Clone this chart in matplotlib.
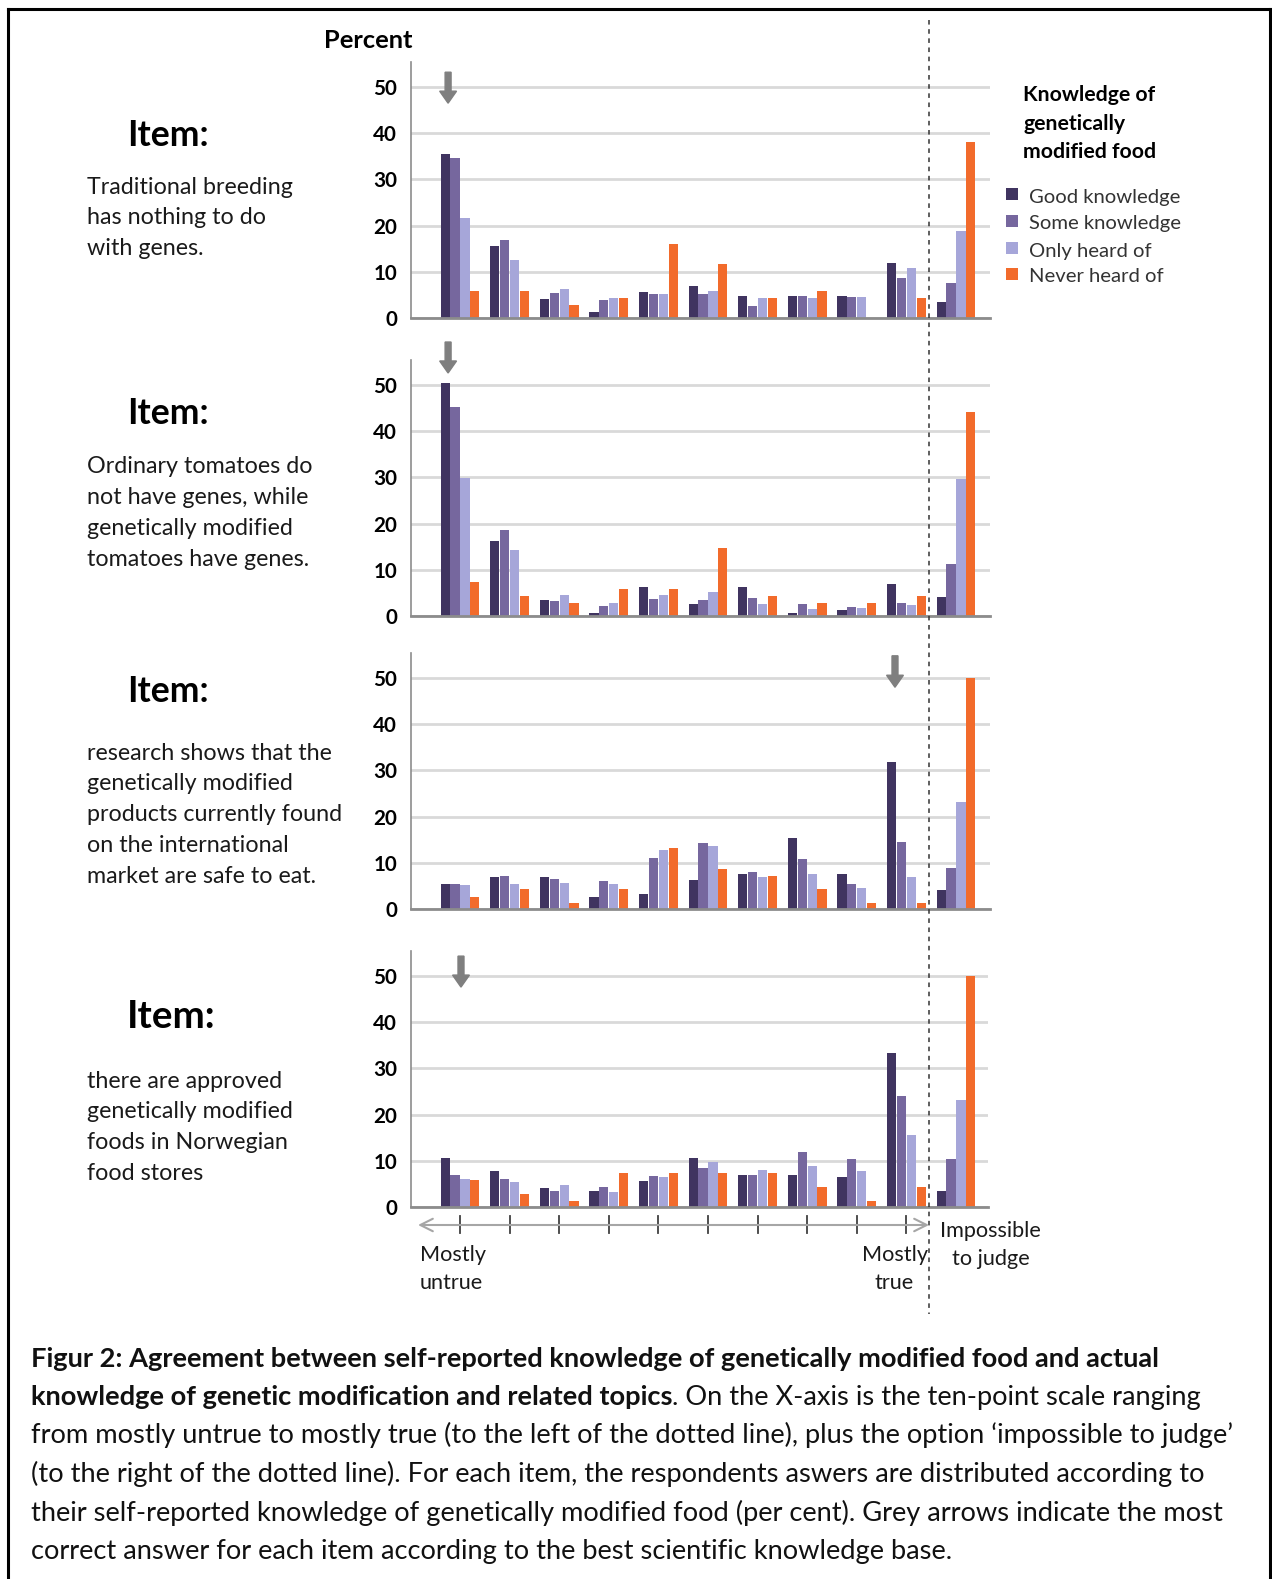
import matplotlib
matplotlib.use("Agg")
import matplotlib.pyplot as plt
from matplotlib.patches import Rectangle
from matplotlib.lines import Line2D
from matplotlib import transforms
import numpy as np

# ---------------- data ----------------
categories = ['1', '2', '3', '4', '5', '6', '7', '8', '9', '10', 'Impossible to judge']
series = ['Good knowledge', 'Some knowledge', 'Only heard of', 'Never heard of']

item1_good  = [35.4, 15.6, 4.2, 1.3, 5.6, 7.0, 4.8, 4.8, 4.8, 12.0, 3.4]
item1_some  = [34.6, 16.9, 5.4, 3.9, 5.1, 5.2, 2.6, 4.8, 4.6, 8.7, 7.5]
item1_only  = [21.7, 12.6, 6.3, 4.3, 5.3, 5.9, 4.3, 4.3, 4.6, 10.8, 18.9]
item1_never = [5.8, 5.8, 2.8, 4.3, 16.1, 11.7, 4.3, 5.8, 0.0, 4.3, 38.2]

item2_good  = [50.5, 16.3, 3.5, 0.6, 6.3, 2.7, 6.3, 0.6, 1.3, 7.0, 4.2]
item2_some  = [45.3, 18.7, 3.3, 2.2, 3.7, 3.5, 3.8, 2.7, 2.0, 2.9, 11.3]
item2_only  = [29.9, 14.3, 4.6, 2.9, 4.6, 5.2, 2.7, 1.5, 1.8, 2.4, 29.6]
item2_never = [7.4, 4.4, 2.9, 5.9, 5.9, 14.7, 4.4, 2.9, 2.9, 4.4, 44.1]

item3_good  = [5.4, 6.9, 6.9, 2.7, 3.3, 6.2, 7.6, 15.4, 7.6, 31.9, 4.1]
item3_some  = [5.4, 7.2, 6.6, 6.1, 11.1, 14.3, 8.0, 10.9, 5.4, 14.4, 8.9]
item3_only  = [5.3, 5.5, 5.6, 5.5, 12.8, 13.7, 7.0, 7.6, 4.6, 7.0, 23.2]
item3_never = [2.7, 4.3, 1.3, 4.3, 13.1, 8.7, 7.2, 4.3, 1.3, 1.3, 50.0]

item4_good  = [10.6, 7.7, 4.2, 3.5, 5.6, 10.6, 7.0, 7.0, 6.4, 33.3, 3.5]
item4_some  = [7.0, 6.1, 3.5, 4.3, 6.8, 8.4, 6.9, 11.8, 10.3, 24.1, 10.3]
item4_only  = [6.1, 5.4, 4.8, 3.3, 6.4, 9.7, 8.1, 8.9, 7.9, 15.5, 23.2]
item4_never = [5.8, 2.8, 1.4, 7.3, 7.3, 7.3, 7.3, 4.4, 1.4, 4.4, 50.0]

correct_answer = [0, 0, 9, 0]   # index of category marked by grey arrow

item_texts = [
    ["Traditional breeding", "has nothing to do", "with genes."],
    ["Ordinary tomatoes do", "not have genes, while", "genetically modified", "tomatoes have genes."],
    ["research shows that the", "genetically modified", "products currently found",
     "on the international", "market are safe to eat."],
    ["there are approved", "genetically modified", "foods in Norwegian", "food stores"],
]
yticks = [0, 10, 20, 30, 40, 50]

caption_lines = [
    [("Figur 2: Agreement between self-reported knowledge of genetically modified food and actual", 'bold')],
    [("knowledge of genetic modification and related topics", 'bold'),
     (". On the X-axis is the ten-point scale ranging", 'normal')],
    [("from mostly untrue to mostly true (to the left of the dotted line), plus the option \u2018impossible to judge\u2019", 'normal')],
    [("(to the right of the dotted line). For each item, the respondents aswers are distributed according to", 'normal')],
    [("their self-reported knowledge of genetically modified food (per cent). Grey arrows indicate the most", 'normal')],
    [("correct answer for each item according to the best scientific knowledge base.", 'normal')],
]

# ---------------- style ----------------
FONT = ['Lato', 'DejaVu Sans']
plt.rcParams['font.family'] = FONT
colors = ['#403460', '#76679e', '#a6a6d9', '#f26b2b']
W, H = 1272, 1579
fig = plt.figure(figsize=(W / 100, H / 100), dpi=100)
renderer = fig.canvas.get_renderer()


def fx(px):
    return px / W


def fy(py):
    return 1 - py / H


def text_w(s, size, weight):
    t = fig.text(0, 0, s, fontsize=size, fontweight=weight)
    w = t.get_window_extent(renderer).width
    t.remove()
    return w


def fit(s, weight, target):
    return 10 * target / text_w(s, 10, weight)


cap_size = fit(caption_lines[0][0][0], 'bold', 1137)
desc_size = fit("Traditional breeding", 'normal', 206)
item_size = fit("Item:", 'bold', 82)
item4_size = fit("Item:", 'bold', 89)
percent_size = fit("Percent", 'bold', 89)
leg_title_size = fit("Knowledge of", 'bold', 133)
leg_size = fit("Good knowledge", 'normal', 152)
tick_size = fit("50", 'bold', 24)
axlab_size = fit("Impossible", 'normal', 101)

panel_zero = [318, 616, 909, 1207]
px_per_unit = 4.62
ytop = 55.5
x_left_px, x_right_px = 411, 990
g0_px, gstep_px = 460, 49.6
xmin = (x_left_px - g0_px) / gstep_px

data = [
    [item1_good, item1_some, item1_only, item1_never],
    [item2_good, item2_some, item2_only, item2_never],
    [item3_good, item3_some, item3_only, item3_never],
    [item4_good, item4_some, item4_only, item4_never],
]
arrow_offsets = [-0.24, -0.24, -0.23, 0.02]
arrow_top = [53.2, 59.3, 54.8, 54.3]
arrow_tip = [46.5, 52.6, 48.0, 47.6]
item_y = [136, 413, 691, 1016]
desc_y0 = [187, 467, 753, 1081]
line_gap = 30.8

x = np.arange(len(categories))
axes = []
for i in range(4):
    z = panel_zero[i]
    top = z - ytop * px_per_unit
    right = x_right_px if i < 3 else 988
    ax = fig.add_axes([fx(x_left_px), fy(z), fx(right) - fx(x_left_px), (z - top) / H])
    axes.append(ax)
    ax.set_xlim(xmin, (right - g0_px) / gstep_px)
    ax.set_ylim(0, ytop)
    for k in range(4):
        ax.bar(x + (k - 1.5) * 0.2, data[i][k], width=0.185, color=colors[k], zorder=3)
    ax.set_yticks(yticks)
    ax.set_yticklabels([str(v) for v in yticks], fontsize=tick_size, fontweight='bold')
    ax.tick_params(axis='y', length=0, pad=10)
    ax.set_xticks([])
    ax.yaxis.grid(True, color='#d9d9d9', lw=2, zorder=0)
    for s in ['top', 'right']:
        ax.spines[s].set_visible(False)
    ax.spines['left'].set_color('#8c8c8c')
    ax.spines['left'].set_linewidth(1.2)
    ax.spines['bottom'].set_color('#8c8c8c')
    ax.spines['bottom'].set_linewidth(2)
    ax.spines['bottom'].set_zorder(4)
    # grey arrow marking the most correct answer
    xa = correct_answer[i] + arrow_offsets[i]
    ax.arrow(xa, arrow_top[i], 0, arrow_tip[i] - arrow_top[i], width=0.12, head_width=0.34,
             head_length=2.6, length_includes_head=True, color='#7f7f7f', clip_on=False, zorder=5)
    # left texts
    fig.text(fx(127), fy(item_y[i]), "Item:", fontsize=(item_size if i < 3 else item4_size),
             fontweight='bold', va='center', ha='left')
    for j, line in enumerate(item_texts[i]):
        fig.text(fx(87), fy(desc_y0[i] + j * line_gap), line, fontsize=desc_size,
                 va='center', ha='left', color='#1a1a1a')

# Percent label
fig.text(fx(324), fy(41), "Percent", fontsize=percent_size, fontweight='bold', va='center', ha='left')

# legend
for j, line in enumerate(["Knowledge of", "genetically", "modified food"]):
    fig.text(fx(1023), fy(95 + j * 28.5), line, fontsize=leg_title_size, fontweight='bold',
             va='center', ha='left')
leg_y = [194, 221, 248, 274]
for k in range(4):
    fig.patches.append(Rectangle((fx(1006), fy(leg_y[k] + 6)), 12 / W, 12 / H, transform=fig.transFigure,
                                 facecolor=colors[k], edgecolor='none'))
    fig.text(fx(1029), fy(leg_y[k] + 3), series[k], fontsize=leg_size, va='center', ha='left', color='#333333')

# bottom scale axis
ax4 = axes[3]
trans = transforms.blended_transform_factory(ax4.transData, fig.transFigure)
x_arrow_l = (418 - g0_px) / gstep_px
x_arrow_r = (929 - g0_px) / gstep_px
ax4.annotate("", xy=(x_arrow_r, fy(1225)), xytext=(x_arrow_l, fy(1225)), xycoords=trans, textcoords=trans,
             arrowprops=dict(arrowstyle='<->,head_length=0.9,head_width=0.45', color='#a6a6a6', lw=1.5,
                             shrinkA=0, shrinkB=0), annotation_clip=False)
for t in range(10):
    ax4.add_line(Line2D([t, t], [fy(1216), fy(1233)], transform=trans, color='#404040', lw=1.3, clip_on=False))

fig.text(fx(420), fy(1255), "Mostly", fontsize=axlab_size, va='center', ha='left', color='#1a1a1a')
fig.text(fx(420), fy(1283), "untrue", fontsize=axlab_size, va='center', ha='left', color='#1a1a1a')
fig.text(fx(928), fy(1255), "Mostly", fontsize=axlab_size, va='center', ha='right', color='#1a1a1a')
fig.text(fx(894), fy(1283), "true", fontsize=axlab_size, va='center', ha='center', color='#1a1a1a')
fig.text(fx(940), fy(1231), "Impossible", fontsize=axlab_size, va='center', ha='left', color='#1a1a1a')
fig.text(fx(952), fy(1259), "to judge", fontsize=axlab_size, va='center', ha='left', color='#1a1a1a')

# dotted separator
fig.add_artist(Line2D([fx(929), fx(929)], [fy(20), fy(1314)], transform=fig.transFigure,
                      color='#333333', lw=1.1, linestyle=(0, (3, 3))))

# caption (mixed bold / regular runs placed one after another)
cap_y = [1359, 1397, 1435, 1474, 1513, 1552]
for j, parts in enumerate(caption_lines):
    xpos = fx(31)
    for s, wgt in parts:
        t = fig.text(xpos, fy(cap_y[j]), s, fontsize=cap_size, fontweight=wgt,
                     va='center', ha='left', color='#111111')
        bb = t.get_window_extent(renderer)
        xpos = bb.x1 / W

# border
for (x0, y0, x1, y1) in [(8, 9, 1271, 9), (8, 9, 8, 1579), (1270, 9, 1270, 1579)]:
    fig.add_artist(Line2D([fx(x0), fx(x1)], [fy(y0), fy(y1)], transform=fig.transFigure,
                          color='black', lw=2.2))

fig.savefig("out.png", dpi=100)
